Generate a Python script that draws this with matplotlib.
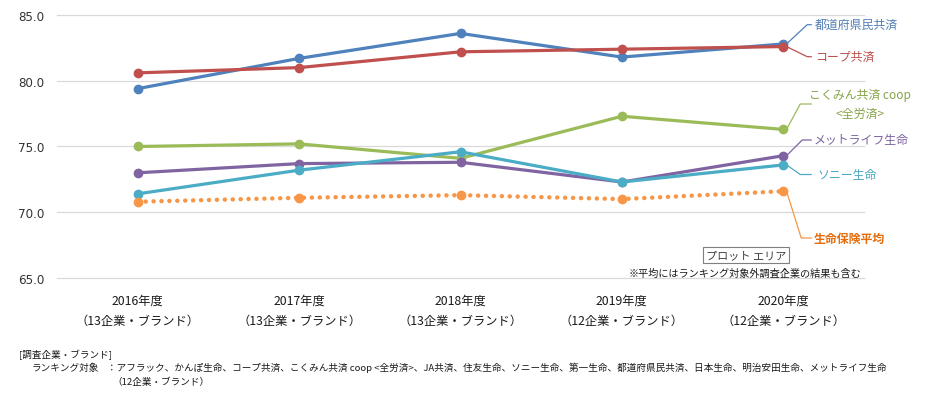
import matplotlib
matplotlib.use("Agg")
import matplotlib.pyplot as plt

plt.rcParams['font.family'] = ['Noto Sans CJK JP', 'DejaVu Sans']
plt.rcParams['lines.scale_dashes'] = False

# ---- data ----
years = ["2016年度", "2017年度", "2018年度", "2019年度", "2020年度"]
counts = ["（13企業・ブランド）", "（13企業・ブランド）", "（13企業・ブランド）",
          "（12企業・ブランド）", "（12企業・ブランド）"]
todofuken = [79.4, 81.7, 83.6, 81.8, 82.8]
coop = [80.6, 81.0, 82.2, 82.4, 82.6]
kokumin = [75.0, 75.2, 74.1, 77.3, 76.3]
metlife = [73.0, 73.7, 73.8, 72.3, 74.3]
sony = [71.4, 73.2, 74.6, 72.3, 73.6]
average = [70.8, 71.1, 71.3, 71.0, 71.6]
series_names = ["都道府県民共済", "コープ共済", "こくみん共済 coop\n<全労済>",
                "メットライフ生命", "ソニー生命", "生命保険平均"]
yticks = [65.0, 70.0, 75.0, 80.0, 85.0]

W, H = 940, 402
fig = plt.figure(figsize=(W / 100, H / 100), dpi=100)
ax = fig.add_axes([57 / W, 1 - 279 / H, 807 / W, 263 / H])

x = list(range(len(years)))
colors = ["#4F81BD", "#C0504D", "#9BBB59", "#8064A2", "#4BACC6", "#F79646"]
label_colors = ["#4F7DB3", "#B9504D", "#86A34A", "#7A63A0", "#4AA6C0", "#E46C0A"]
data = [todofuken, coop, kokumin, metlife, sony]
for vals, c in zip(data, colors[:5]):
    ax.plot(x, vals, color=c, lw=2.3, marker="o", ms=6, solid_capstyle="round",
            clip_on=False, zorder=3)
ax.plot(x, average, color=colors[5], lw=3.2, linestyle=(0, (0.1, 5.6)),
        dash_capstyle="round", zorder=3, clip_on=False)
ax.plot(x, average, color=colors[5], lw=0, marker="o", ms=6, zorder=4, clip_on=False)

ax.set_xlim(-0.5, 4.5)
ax.set_ylim(65, 85)
ax.set_yticks(yticks)
ax.set_yticklabels([f"{v:.1f}" for v in yticks], family="DejaVu Sans",
                   fontsize=8.6, color="#333333")
ax.grid(axis="y", color="#D9D9D9", lw=0.9)
for gl in ax.get_ygridlines():
    gl.set_clip_on(False)
ax.set_axisbelow(True)
for s in ax.spines.values():
    s.set_visible(False)
ax.tick_params(axis="both", length=0)
ax.tick_params(axis="y", pad=9)
ax.set_xticks(x)
ax.set_xticklabels([f"{a}\n{b}" for a, b in zip(years, counts)], fontsize=8.8,
                   linespacing=1.75, color="#1a1a1a")
ax.tick_params(axis="x", pad=11)

# ---- leader labels at last point ----
last = len(x) - 1
px = 162.0  # pixels per category

def ypix(p):
    return 85 - (p - 16) / 13.15

label_y = [ypix(25.7), ypix(57.7), ypix(105), ypix(141), ypix(175.5), ypix(239)]
elbow_dx = [(807 - 783) / px, (807 - 783) / px, (800 - 783) / px,
            (802 - 783) / px, (800 - 783) / px, (801 - 783) / px]
end_dx = (811 - 783) / px
text_dx = [(815 - 783) / px, (815 - 783) / px, (860 - 783) / px,
           (813 - 783) / px, (817 - 783) / px, (813 - 783) / px]
all_vals = data + [average]
for i, vals in enumerate(all_vals):
    v = vals[last]
    ax.plot([last + 0.02, last + elbow_dx[i], last + end_dx], [v, label_y[i], label_y[i]],
            color=colors[i], lw=0.9, clip_on=False, zorder=2)
    ha = "center" if i == 2 else "left"
    ax.text(last + text_dx[i], label_y[i], series_names[i], ha=ha, va="center",
            fontsize=8.6, color=label_colors[i], linespacing=1.55,
            fontweight="bold" if i == 5 else "normal", clip_on=False)

# ---- notes ----
def fy(p):
    return 1 - p / H

fig.text(746 / W, fy(256), "プロット エリア", ha="center", va="center", fontsize=8,
         color="#404040",
         bbox=dict(boxstyle="square,pad=0.25", fc="white", ec="#7F7F7F", lw=0.8))
fig.text(861 / W, fy(274), "※平均にはランキング対象外調査企業の結果も含む", ha="right",
         va="center", fontsize=7.3, color="#1a1a1a")

fs = 6.9
fig.text(19 / W, fy(355), "[調査企業・ブランド]", ha="left", va="center", fontsize=fs,
         color="#1a1a1a")
fig.text(32 / W, fy(368), "ランキング対象", ha="left", va="center", fontsize=fs,
         color="#1a1a1a")
fig.text(107 / W, fy(368),
         "：アフラック、かんぽ生命、コープ共済、こくみん共済 coop <全労済>、JA共済、住友生命、"
         "ソニー生命、第一生命、都道府県民共済、日本生命、明治安田生命、メットライフ生命",
         ha="left", va="center", fontsize=fs, color="#1a1a1a")
fig.text(112 / W, fy(382), "（12企業・ブランド）", ha="left", va="center", fontsize=fs,
         color="#1a1a1a")

fig.savefig("out.png", dpi=100, facecolor="white")
